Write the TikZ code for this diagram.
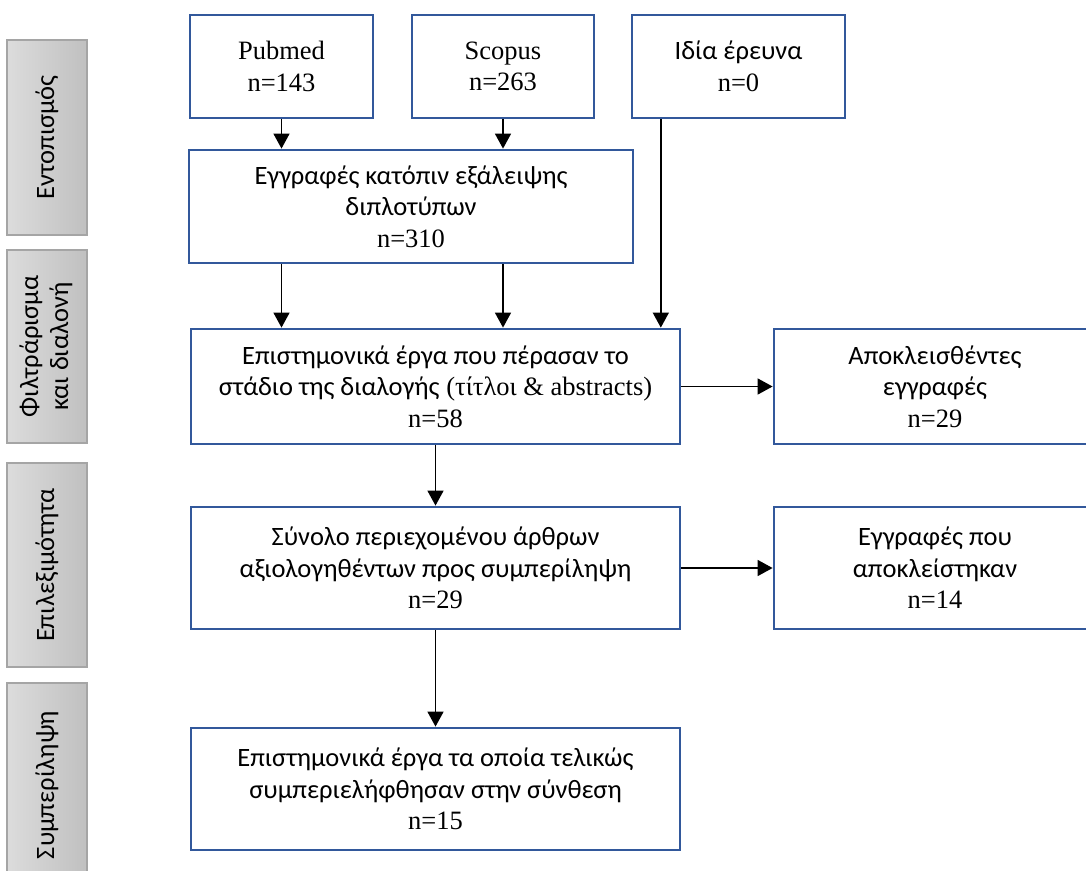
\documentclass[tikz,border=0pt]{standalone}
\usepackage{fontspec}
\setmainfont{Liberation Serif}
\newfontfamily\grf{Carlito}
\usetikzlibrary{arrows.meta,calc}
\definecolor{boxblue}{RGB}{50,88,155}
\definecolor{barL}{RGB}{220,220,220}
\definecolor{barR}{RGB}{192,192,192}
\definecolor{barB}{RGB}{165,165,165}
\begin{document}
\begin{tikzpicture}[x=1pt,y=-1pt,
  flowbox/.style={draw=boxblue, line width=2.8pt, fill=white, inner sep=0pt,
    align=center, font=\fontsize{26.5}{31.5}\selectfont},
  stagebar/.style={draw=barB, line width=1.2pt, left color=barL, right color=barR,
    inner sep=0pt, minimum width=80pt, align=center,
    font=\grf\fontsize{26.5}{30}\selectfont},
  conn/.style={line width=1.5pt, -{Triangle[length=15pt,width=16pt]}}]
\useasboundingbox (0,0) rectangle (1086,870);
\clip (0,0) rectangle (1086,870);

% stage bars
\node[stagebar, minimum height=195pt] (bar1) at (47,137.5) {\rotatebox{90}{Εντοπισμός}};
\node[stagebar, minimum height=193pt] (bar2) at (47,346.5) {\rotatebox{90}{\begin{tabular}{@{}c@{}}Φιλτράρισμα\\και διαλονή\end{tabular}}};
\node[stagebar, minimum height=204pt] (bar3) at (47,565) {\rotatebox{90}{Επιλεξιμότητα}};
\node[stagebar, minimum height=204pt] (bar4) at (47,785) {\rotatebox{90}{Συμπερίληψη}};

% boxes
\node[flowbox, minimum width=183pt, minimum height=103pt] (pub) at (281.5,66.5) {Pubmed\\n=143};
\node[flowbox, minimum width=182pt, minimum height=103pt] (sco) at (503,66.5) {Scopus\\n=263};
\node[flowbox, minimum width=213pt, minimum height=103pt] (idia) at (738.5,66.5) {{\grf Ιδία έρευνα}\\n=0};
\node[flowbox, minimum width=444pt, minimum height=113pt] (dup) at (411,206.5)
  {{\grf Εγγραφές κατόπιν εξάλειψης}\\{\grf διπλοτύπων}\\n=310};
\node[flowbox, minimum width=489pt, minimum height=115pt] (scr) at (435.5,386.5)
  {{\grf Επιστημονικά έργα που πέρασαν το}\\{\grf στάδιο της διαλογής} (τίτλοι \& abstracts)\\n=58};
\node[flowbox, minimum width=322pt, minimum height=115pt] (exc1) at (935,386.5)
  {{\grf Αποκλεισθέντες}\\{\grf εγγραφές}\\n=29};
\node[flowbox, minimum width=489pt, minimum height=122pt] (elig) at (435.5,568)
  {{\grf Σύνολο περιεχομένου άρθρων}\\{\grf αξιολογηθέντων προς συμπερίληψη}\\n=29};
\node[flowbox, minimum width=322pt, minimum height=122pt] (exc2) at (935,568)
  {{\grf Εγγραφές που}\\{\grf αποκλείστηκαν}\\n=14};
\node[flowbox, minimum width=489pt, minimum height=122pt] (inc) at (435.5,789)
  {{\grf Επιστημονικά έργα τα οποία τελικώς}\\{\grf συμπεριελήφθησαν στην σύνθεση}\\n=15};

% connectors
\draw[conn] (pub.south) -- (pub.south |- dup.north);
\draw[conn] (sco.south) -- (sco.south |- dup.north);
\draw[conn] (pub.south |- dup.south) -- (pub.south |- scr.north);
\draw[conn] (sco.south |- dup.south) -- (sco.south |- scr.north);
\coordinate (idiaout) at ($(idia.south west)!0.14!(idia.south east)$);
\draw[conn] (idiaout) -- (idiaout |- scr.north);
\draw[conn] (scr.east) -- (exc1.west);
\draw[conn] (scr.south) -- (elig.north);
\draw[conn] (elig.east) -- (exc2.west);
\draw[conn] (elig.south) -- (inc.north);
\end{tikzpicture}
\end{document}
